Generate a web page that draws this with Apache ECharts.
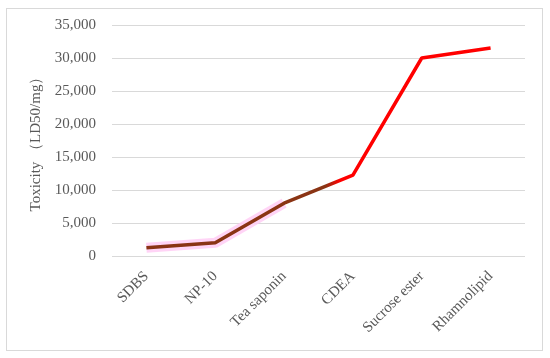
<!DOCTYPE html>
<html>
<head>
<meta charset="utf-8">
<script src="https://cdn.jsdelivr.net/npm/echarts@6/dist/echarts.min.js"></script>
<style>
  html, body { margin: 0; padding: 0; background: #fff; }
  #box { position: absolute; left: 6px; top: 8px; width: 537px; height: 343px; border: 1px solid #d9d9d9; box-sizing: border-box; }
  #main { width: 550px; height: 358px; position: absolute; left: 0; top: 0; }
</style>
</head>
<body>
<div id="box"></div>
<div id="main"></div>
<script>
    var categories = ['SDBS', 'NP-10', 'Tea saponin', 'CDEA', 'Sucrose ester', 'Rhamnolipid'];
    var toxicity = [1250, 2000, 8000, 12250, 30000, 31500];
    // 前段的粉色高亮
    var highlight = [1250, 2000, 8000, null, null, null];

    var myChart = echarts.init(document.getElementById('main'));
    var option = {
        animation: false,
        grid: { left: 112, right: 25, top: 25, bottom: 102 },
        xAxis: {
            type: 'category',
            data: categories,
            boundaryGap: true,
            axisLine: { show: false },
            axisTick: { show: false },
            axisLabel: {
                rotate: 45,
                interval: 0,
                margin: 18,
                color: '#595959',
                fontFamily: 'Liberation Serif',
                fontSize: 15
            }
        },
        yAxis: {
            type: 'value',
            min: 0,
            max: 35000,
            interval: 5000,
            name: 'Toxicity （LD50/mg）',
            nameLocation: 'middle',
            nameGap: 66,
            nameTextStyle: { color: '#595959', fontFamily: 'Liberation Serif', fontSize: 15 },
            axisLabel: {
                color: '#595959',
                fontFamily: 'Liberation Serif',
                fontSize: 15,
                margin: 16,
                formatter: function (v) { return v.toLocaleString('en-US'); }
            },
            splitLine: { lineStyle: { color: '#d9d9d9', width: 1 } }
        },
        series: [
            {
                type: 'line',
                data: highlight,
                symbol: 'none',
                z: 1,
                lineStyle: { width: 10, color: 'rgba(255,205,245,0.85)', cap: 'butt' }
            },
            {
                type: 'line',
                data: toxicity,
                symbol: 'none',
                z: 2,
                lineStyle: {
                    width: 3.5,
                    color: new echarts.graphic.LinearGradient(0, 0, 1, 0, [
                        { offset: 0, color: '#8a3414' },
                        { offset: 0.52, color: '#8a3414' },
                        { offset: 0.56, color: '#ff0000' },
                        { offset: 1, color: '#ff0000' }
                    ])
                }
            }
        ]
    };
    myChart.setOption(option);
</script>
</body>
</html>
